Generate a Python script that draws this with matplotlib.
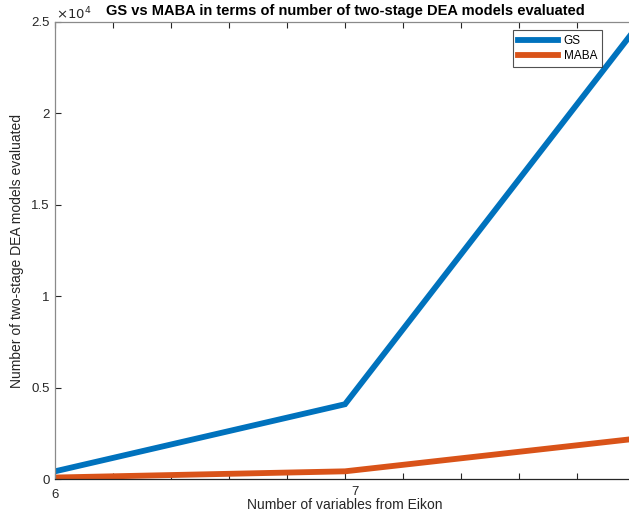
import matplotlib
matplotlib.use("Agg")
import matplotlib.pyplot as plt
import matplotlib.transforms as mtransforms
import numpy as np

plt.rcParams['font.family'] = ['Liberation Sans', 'DejaVu Sans']

# Number of variables drawn from Eikon
n_vars = [6, 7, 8]
# Two-stage DEA models evaluated by each method
gs_models = [420, 4090, 24600]
maba_models = [80, 420, 2200]

x_ticks = np.round(np.arange(6, 8.01, 0.2), 1)
x_tick_labels = ['6', '', '', '', '', '7', '', '', '', '', '']
y_ticks = [0, 5000, 10000, 15000, 20000, 25000]
y_tick_labels = ['0', '0.5', '1', '1.5', '2', '2.5']

W, H = 629, 512
fig = plt.figure(figsize=(W / 100, H / 100), dpi=100)
left, right, top, bottom = 55, 635, 22, 479
ax = fig.add_axes([left / W, 1 - bottom / H, (right - left) / W, (bottom - top) / H])

ax.plot(n_vars, gs_models, color='#0072BD', lw=4.2, label='GS', solid_joinstyle='miter')
ax.plot(n_vars, maba_models, color='#D95319', lw=4.2, label='MABA', solid_joinstyle='miter')

ax.set_xlim(6, 8)
ax.set_ylim(0, 25000)
ax.set_xticks(x_ticks)
ax.set_xticklabels(x_tick_labels)
ax.set_yticks(y_ticks)
ax.set_yticklabels(y_tick_labels)

ax.tick_params(axis='both', direction='in', length=4, width=0.8, colors='#262626',
               labelsize=9.5, top=True, right=True)
ax.tick_params(axis='x', pad=7)
ax.tick_params(axis='y', pad=4)

for lbl in ax.get_xticklabels():
    if lbl.get_text() == '7':
        lbl.set_transform(lbl.get_transform() +
                          mtransforms.ScaledTranslation(10 / 100, 3 / 100, fig.dpi_scale_trans))

ax.spines['bottom'].set_color('#262626')
ax.spines['left'].set_color('#8a8a8a')
ax.spines['top'].set_color('#8a8a8a')
for s in ax.spines.values():
    s.set_linewidth(0.9)

ax.set_xlabel('Number of variables from Eikon', fontsize=10, color='#262626', labelpad=-2)
ax.set_ylabel('Number of two-stage DEA models evaluated', fontsize=10, color='#262626',
              labelpad=5)
ax.set_title('GS vs MABA in terms of number of two-stage DEA models evaluated',
             fontsize=10.5, fontweight='bold', color='black', pad=5)

fig.text(56 / W, 1 - 14 / H, r'$\times 10^4$', fontsize=9.5, color='#262626',
         va='center', ha='left', math_fontfamily='dejavusans')

leg = ax.legend(loc='upper right', bbox_to_anchor=((602 - left) / (right - left), 1 - 8 / (bottom - top)),
                fontsize=8.5, frameon=True, fancybox=False, edgecolor='#262626',
                handlelength=3.4, handletextpad=0.5, borderpad=0.4, labelspacing=0.3,
                borderaxespad=0)
leg.get_frame().set_linewidth(0.8)

fig.savefig('out.png', dpi=100)
